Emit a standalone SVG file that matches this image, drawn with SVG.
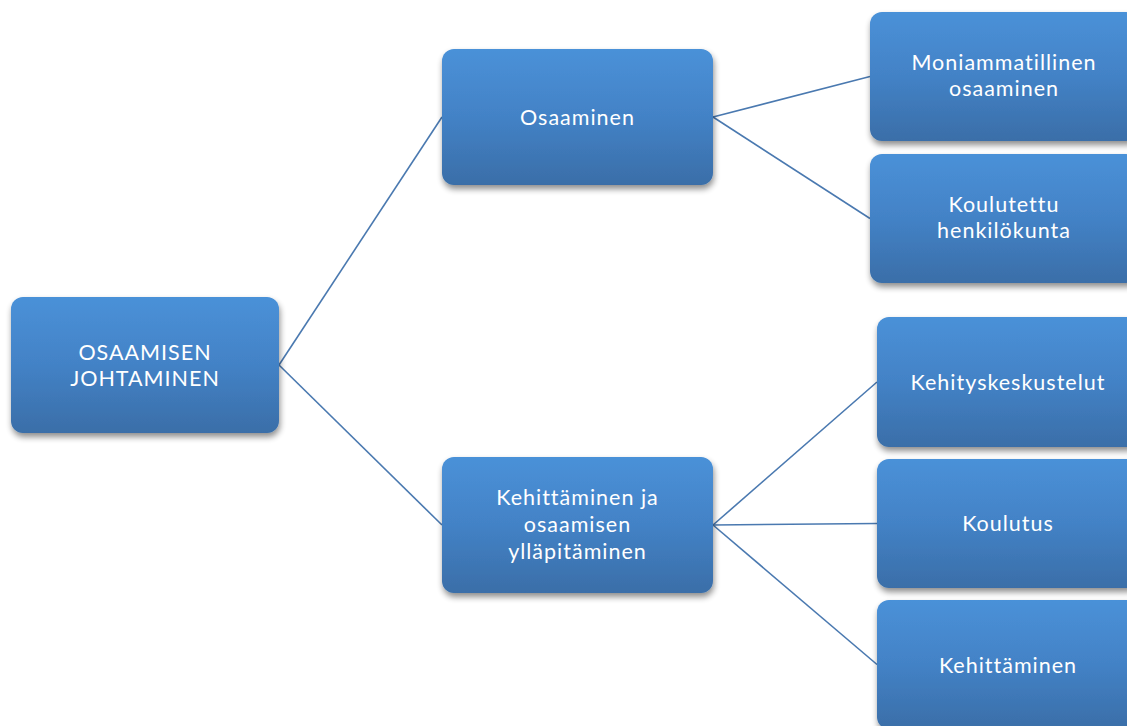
<svg xmlns="http://www.w3.org/2000/svg" width="1127" height="726" viewBox="0 0 1127 726">
  <defs>
    <linearGradient id="boxFill" x1="0" y1="0" x2="0" y2="1">
      <stop offset="0" stop-color="#4a91d8"/>
      <stop offset="0.5" stop-color="#4382c6"/>
      <stop offset="1" stop-color="#3a6ea8"/>
    </linearGradient>
    <filter id="drop" x="-10%" y="-10%" width="120%" height="130%">
      <feGaussianBlur in="SourceAlpha" stdDeviation="3"/>
      <feOffset dx="1" dy="4" result="off"/>
      <feComponentTransfer>
        <feFuncA type="linear" slope="0.45"/>
      </feComponentTransfer>
      <feMerge>
        <feMergeNode/>
        <feMergeNode in="SourceGraphic"/>
      </feMerge>
    </filter>
  </defs>
  <style>
    .box { fill: url(#boxFill); filter: url(#drop); }
    .label { fill: #ffffff; font-family: Lato, "Open Sans", sans-serif; font-size: 21.5px; letter-spacing: 1px; text-anchor: middle; }
    .link { stroke: #4a79b0; stroke-width: 1.6; fill: none; }
  </style>

  <rect width="1127" height="726" fill="#ffffff"/>

  <g id="connectors">
    <line class="link" x1="279" y1="365" x2="442" y2="117"/>
    <line class="link" x1="279" y1="365" x2="442" y2="525"/>
    <line class="link" x1="713" y1="117" x2="870" y2="76.5"/>
    <line class="link" x1="713" y1="117" x2="870" y2="218.5"/>
    <line class="link" x1="713" y1="525" x2="877" y2="382"/>
    <line class="link" x1="713" y1="525" x2="877" y2="523.5"/>
    <line class="link" x1="713" y1="525" x2="877" y2="664.5"/>
  </g>

  <g id="root">
    <rect class="box" x="11" y="297" width="268" height="136" rx="12"/>
    <text class="label"><tspan x="145" y="360">OSAAMISEN</tspan><tspan x="145" y="386">JOHTAMINEN</tspan></text>
  </g>

  <g id="osaaminen">
    <rect class="box" x="442" y="49" width="271" height="136" rx="12"/>
    <text class="label" x="577.5" y="125">Osaaminen</text>
  </g>

  <g id="kehittaminen-yllapito">
    <rect class="box" x="442" y="457" width="271" height="136" rx="12"/>
    <text class="label"><tspan x="577.5" y="505">Kehittäminen ja</tspan><tspan x="577.5" y="532">osaamisen</tspan><tspan x="577.5" y="559">ylläpitäminen</tspan></text>
  </g>

  <g id="moniammatillinen">
    <rect class="box" x="870" y="12" width="268" height="129" rx="12"/>
    <text class="label"><tspan x="1004" y="70">Moniammatillinen</tspan><tspan x="1004" y="96">osaaminen</tspan></text>
  </g>

  <g id="koulutettu">
    <rect class="box" x="870" y="154" width="268" height="129" rx="12"/>
    <text class="label"><tspan x="1004" y="212">Koulutettu</tspan><tspan x="1004" y="238">henkilökunta</tspan></text>
  </g>

  <g id="kehityskeskustelut">
    <rect class="box" x="877" y="317" width="262" height="130" rx="12"/>
    <text class="label" x="1008" y="390">Kehityskeskustelut</text>
  </g>

  <g id="koulutus">
    <rect class="box" x="877" y="459" width="262" height="129" rx="12"/>
    <text class="label" x="1008" y="531">Koulutus</text>
  </g>

  <g id="kehittaminen">
    <rect class="box" x="877" y="600" width="262" height="129" rx="12"/>
    <text class="label" x="1008" y="673">Kehittäminen</text>
  </g>
</svg>
